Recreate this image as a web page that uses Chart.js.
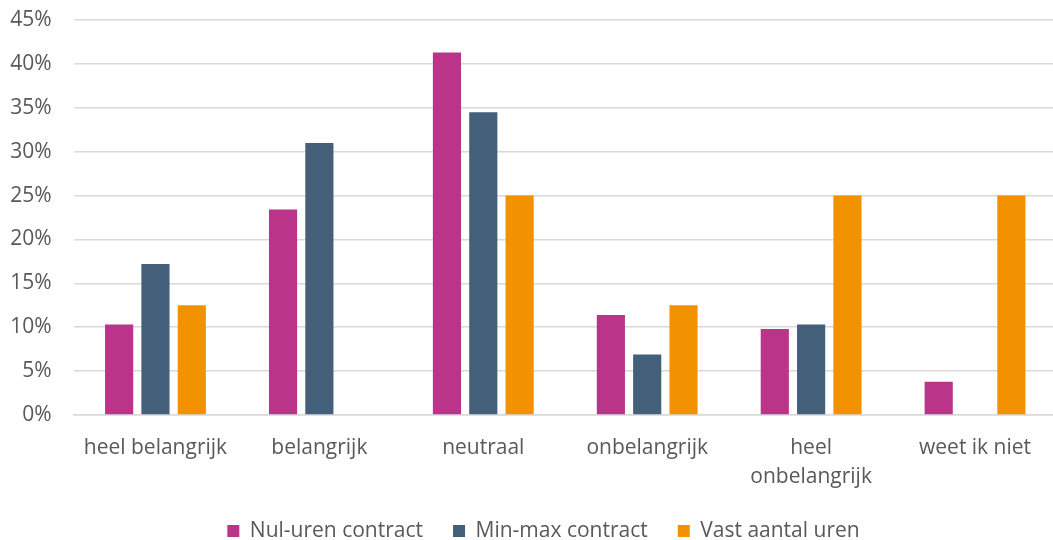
<!DOCTYPE html>
<html>
<head>
<meta charset="utf-8">
<script src="https://cdn.jsdelivr.net/npm/chart.js@4/dist/chart.umd.min.js"></script>
<style>
html,body{margin:0;padding:0;background:#fff;overflow:hidden;width:1053px;height:540px;}
#wrap{width:1060px;height:540px;}
</style>
</head>
<body>
<div id="wrap"><canvas id="c" width="1060" height="540"></canvas></div>
<script>
const categories = ['heel belangrijk', 'belangrijk', 'neutraal', 'onbelangrijk', ['heel', 'onbelangrijk'], 'weet ik niet'];
const seriesNames = ['Nul-uren contract', 'Min-max contract', 'Vast aantal uren'];
const nulUren = [10.3, 23.4, 41.3, 11.4, 9.8, 3.8];
const minMax = [17.2, 31.0, 34.5, 6.9, 10.3, 0];
const vastAantal = [12.5, 0, 25.0, 12.5, 25.0, 25.0];
const yTicks = [0, 5, 10, 15, 20, 25, 30, 35, 40, 45];
const colors = ['#BA3589', '#445F7A', '#F29200'];

const textColor = '#595959';
const fontFamily = '"Open Sans", sans-serif';
const fontSize = 21;

const legendPlace = {
  id: 'legendPlace',
  beforeLayout(chart) {
    const l = chart.legend;
    if (l && !l._fitWrapped) {
      const orig = l.fit;
      l.fit = function () { orig.call(this); this.height = 45; };
      l._fitWrapped = true;
    }
  },
  afterLayout(chart) {
    const l = chart.legend;
    if (!l) return;
    l.left += 10; l.right += 10;
    l.top = 490.5;
    l.bottom = 540;
  }
};

new Chart(document.getElementById('c'), {
  type: 'bar',
  data: {
    labels: categories,
    datasets: [
      { label: seriesNames[0], data: nulUren, backgroundColor: colors[0] },
      { label: seriesNames[1], data: minMax, backgroundColor: colors[1] },
      { label: seriesNames[2], data: vastAantal, backgroundColor: colors[2] }
    ]
  },
  options: {
    responsive: false,
    animation: false,
    devicePixelRatio: 1,
    categoryPercentage: 0.665,
    barPercentage: 0.775,
    layout: { padding: { left: 10, right: 3, top: 20, bottom: 0 } },
    plugins: {
      tooltip: { enabled: false },
      legend: {
        position: 'bottom',
        labels: {
          color: textColor,
          font: { family: fontFamily, size: fontSize },
          boxWidth: 12,
          boxHeight: 12,
          padding: 30
        }
      }
    },
    scales: {
      x: {
        grid: { display: false, drawTicks: false },
        border: { display: true, color: '#d9d9d9', width: 1.5 },
        ticks: {
          color: textColor,
          font: { family: fontFamily, size: fontSize, lineHeight: 1.4 },
          padding: 18,
          maxRotation: 0,
          autoSkip: false
        },
        afterFit(axis) { axis.paddingLeft = 0; axis.paddingRight = 0; axis.height = 80; }
      },
      y: {
        min: 0,
        max: 45,
        afterBuildTicks(axis) { axis.ticks = yTicks.map(v => ({ value: v })); },
        grid: { color: '#d9d9d9', lineWidth: 1.5, drawTicks: false },
        border: { display: false },
        ticks: {
          color: textColor,
          font: { family: fontFamily, size: fontSize },
          padding: 22,
          callback: v => v + '%'
        },
        afterFit(axis) { axis.paddingTop = 0; axis.paddingBottom = 0; axis.width = 63.5; }
      }
    }
  },
  plugins: [legendPlace]
});
</script>
</body>
</html>
